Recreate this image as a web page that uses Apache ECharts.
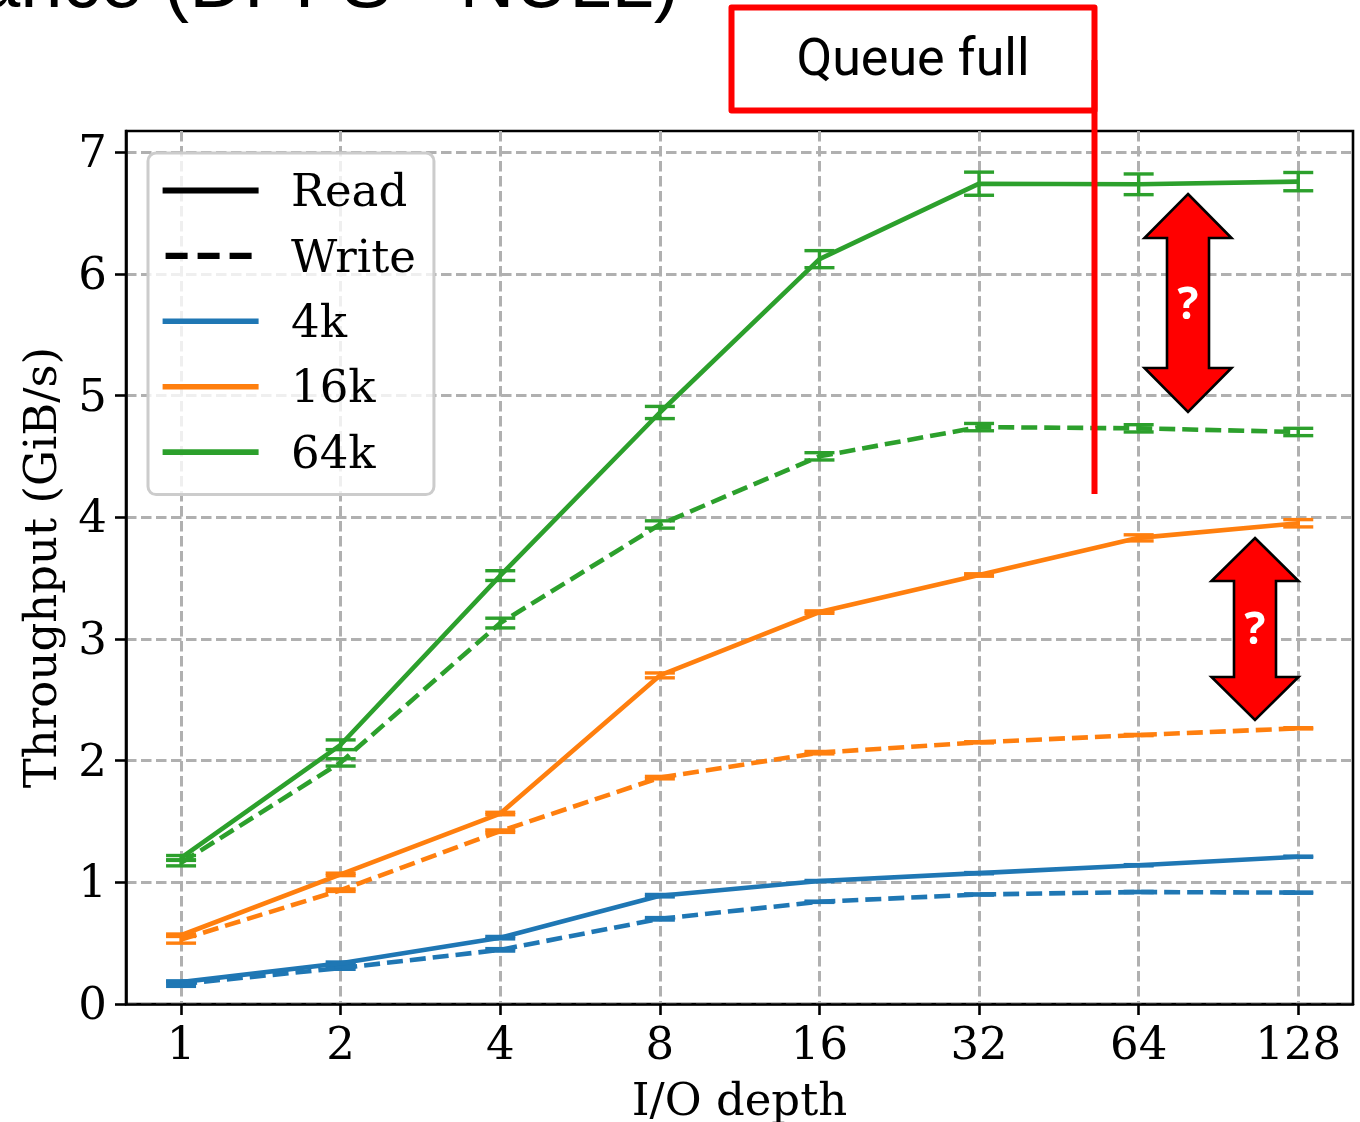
<!DOCTYPE html>
<html><head><meta charset="utf-8">
<script src="https://cdn.jsdelivr.net/npm/echarts@6/dist/echarts.min.js"></script>
<style>html,body{margin:0;padding:0;background:#fff}#c{width:1360px;height:1122px}</style>
</head><body><div id="c"></div>
<script>
const depths = ['1','2','4','8','16','32','64','128'];
const yTicks = [0,1,2,3,4,5,6,7];
const read4k  = [0.18,0.335,0.545,0.89,1.01,1.075,1.14,1.21];
const write4k = [0.165,0.295,0.445,0.70,0.84,0.90,0.92,0.915];
const read16k  = [0.565,1.065,1.565,2.70,3.22,3.525,3.83,3.95];
const write16k = [0.53,0.935,1.42,1.86,2.065,2.15,2.21,2.265];
const read64k  = [1.20,2.13,3.52,4.86,6.12,6.74,6.735,6.757];
const write64k = [1.16,1.985,3.13,3.94,4.50,4.74,4.73,4.70];
const err4kR  = [0.01,0.01,0.01,0.01,0.005,0.005,0.005,0.005];
const err4kW  = [0.02,0.01,0.01,0.01,0.005,0.005,0.005,0.005];
const err16kR = [0.01,0.01,0.01,0.02,0.01,0.01,0.025,0.03];
const err16kW = [0.03,0.01,0.01,0.01,0.01,0.005,0.005,0.005];
const err64kR = [0.02,0.04,0.04,0.05,0.07,0.095,0.085,0.075];
const err64kW = [0.025,0.03,0.04,0.03,0.03,0.03,0.03,0.03];
const legendNames = ['Read','Write','4k','16k','64k'];
const BLUE='#1f77b4', ORANGE='#ff7f0e', GREEN='#2ca02c';
const FONT='"DejaVu Serif"';
const SIZE=45;

function pair(vals, errs, color, dashed, name){
  const line = {
    name: name, type:'line', data: vals.map((v,i)=>[i,v]),
    symbol:'none', clip:false, z:4, silent:true,
    lineStyle:{color:color,width:4.6,type:dashed?[16,7]:'solid',cap:'butt',join:'round'}
  };
  const bars = {
    type:'custom', silent:true, clip:false, z:3,
    data: vals.map((v,i)=>[i,v-errs[i],v+errs[i]]),
    encode:{x:0,y:[1,2]},
    renderItem:(p,api)=>{
      const a=api.coord([api.value(0),api.value(1)]), b=api.coord([api.value(0),api.value(2)]);
      const st={stroke:color,lineWidth:3.4,fill:null};
      return {type:'group',children:[
        {type:'line',shape:{x1:a[0],y1:a[1],x2:b[0],y2:b[1]},style:st},
        {type:'line',shape:{x1:a[0]-15,y1:a[1],x2:a[0]+15,y2:a[1]},style:st},
        {type:'line',shape:{x1:b[0]-15,y1:b[1],x2:b[0]+15,y2:b[1]},style:st}
      ]};
    }
  };
  return [bars,line];
}
function legendSeries(name,color,dashed){
  return {name:name,type:'line',data:[],symbol:'none',
    lineStyle:{color:color,width:color==='#000000'?6.2:5.6,type:dashed?[22,10]:'solid',dashOffset:dashed?-3:0,cap:'butt'},itemStyle:{color:color}};
}
function arrow(cx,y0,y1,y2,y3){
  const hw=43.5, sw=21;
  return {type:'polygon',z:50,shape:{points:[[cx,y0],[cx+hw,y1],[cx+sw,y1],[cx+sw,y2],[cx+hw,y2],[cx,y3],[cx-hw,y2],[cx-sw,y2],[cx-sw,y1],[cx-hw,y1]]},
    style:{fill:'#ff0000',stroke:'#000',lineWidth:2.6,lineJoin:'miter'}};
}
const chart=echarts.init(document.getElementById('c'),null,{renderer:'canvas'});
chart.setOption({
  animation:false,
  backgroundColor:'#fff',
  title:{text:'Performance (DPFS - NULL)',right:681,top:-52,padding:0,
    textStyle:{fontFamily:'"Liberation Sans"',fontSize:76,fontWeight:'normal',color:'#000'}},
  grid:{left:126,top:131,width:1227,height:873,show:true,borderColor:'#000',borderWidth:2.6,backgroundColor:'transparent',containLabel:false,outerBoundsMode:'none'},
  xAxis:{type:'value',min:-0.345,max:7.343,
    name:'I/O depth',nameLocation:'middle',nameGap:77,
    nameTextStyle:{fontFamily:FONT,fontSize:SIZE,color:'#000'},
    axisLine:{show:true,onZero:false,lineStyle:{color:'#000',width:2.6}},
    axisTick:{show:true,length:11,lineStyle:{color:'#000',width:2.6},customValues:depths.map((d,i)=>i)},
    axisLabel:{margin:21,fontFamily:FONT,fontSize:SIZE,color:'#000',customValues:depths.map((d,i)=>i),formatter:v=>depths[Math.round(v)]},
    splitLine:{show:true,lineStyle:{color:'#b0b0b0',width:3,type:[10.5,4.5]}}},
  yAxis:{type:'value',min:0,max:7.173,
    name:'Throughput (GiB/s)',nameLocation:'middle',nameGap:59,nameRotate:90,
    nameTextStyle:{fontFamily:FONT,fontSize:SIZE,color:'#000'},
    axisLine:{show:true,onZero:false,lineStyle:{color:'#000',width:2.6}},
    axisTick:{show:true,length:11,lineStyle:{color:'#000',width:2.6},customValues:yTicks},
    axisLabel:{margin:19,verticalAlign:'top',lineHeight:7,fontFamily:FONT,fontSize:SIZE,color:'#000',customValues:yTicks,formatter:v=>String(v)},
    splitLine:{show:true,lineStyle:{color:'#b0b0b0',width:3,type:[10.5,4.5]}}},
  legend:{data:legendNames,orient:'vertical',left:148,top:153,align:'left',
    padding:[11,18,16,11.5],itemWidth:96,itemHeight:1,itemGap:12.4,
    lineStyle:{width:'inherit'},
    backgroundColor:'rgba(255,255,255,0.8)',borderColor:'#cccccc',borderWidth:3,borderRadius:8,
    selectedMode:false,inactiveColor:'#000',
    formatter:'{a|{name}}',
    textStyle:{rich:{a:{fontFamily:FONT,fontSize:SIZE,color:'#000',lineHeight:58,padding:[8,0,0,27.5]}}},z:20},
  series:[
    ...pair(read4k,err4kR,BLUE,false,'r4'),...pair(write4k,err4kW,BLUE,true,'w4'),
    ...pair(read16k,err16kR,ORANGE,false,'r16'),...pair(write16k,err16kW,ORANGE,true,'w16'),
    ...pair(read64k,err64kR,GREEN,false,'r64'),...pair(write64k,err64kW,GREEN,true,'w64'),
    legendSeries('Read','#000000',false),legendSeries('Write','#000000',true),
    legendSeries('4k',BLUE,false),legendSeries('16k',ORANGE,false),legendSeries('64k',GREEN,false)
  ],
  graphic:[
    {type:'rect',z:50,shape:{x:731.5,y:7.5,width:363,height:103},style:{fill:'#fff',stroke:'#ff0000',lineWidth:6,lineJoin:'round'}},
    {type:'line',z:51,shape:{x1:1094.5,y1:60,x2:1094.5,y2:494},style:{stroke:'#ff0000',lineWidth:6}},
    {type:'text',z:52,x:913,y:62,style:{text:'Queue full',fontFamily:'Roboto',fontSize:52,fill:'#000',align:'center',verticalAlign:'middle'}},
    arrow(1188,194,238,368,412),
    {type:'text',z:52,x:1188,y:306,style:{text:'?',fontFamily:'"Open Sans"',fontWeight:'bold',fontSize:44,fill:'#fff',align:'center',verticalAlign:'middle'}},
    arrow(1255,538,581,677,720),
    {type:'text',z:52,x:1255,y:631,style:{text:'?',fontFamily:'"Open Sans"',fontWeight:'bold',fontSize:44,fill:'#fff',align:'center',verticalAlign:'middle'}}
  ]
});
</script></body></html>
